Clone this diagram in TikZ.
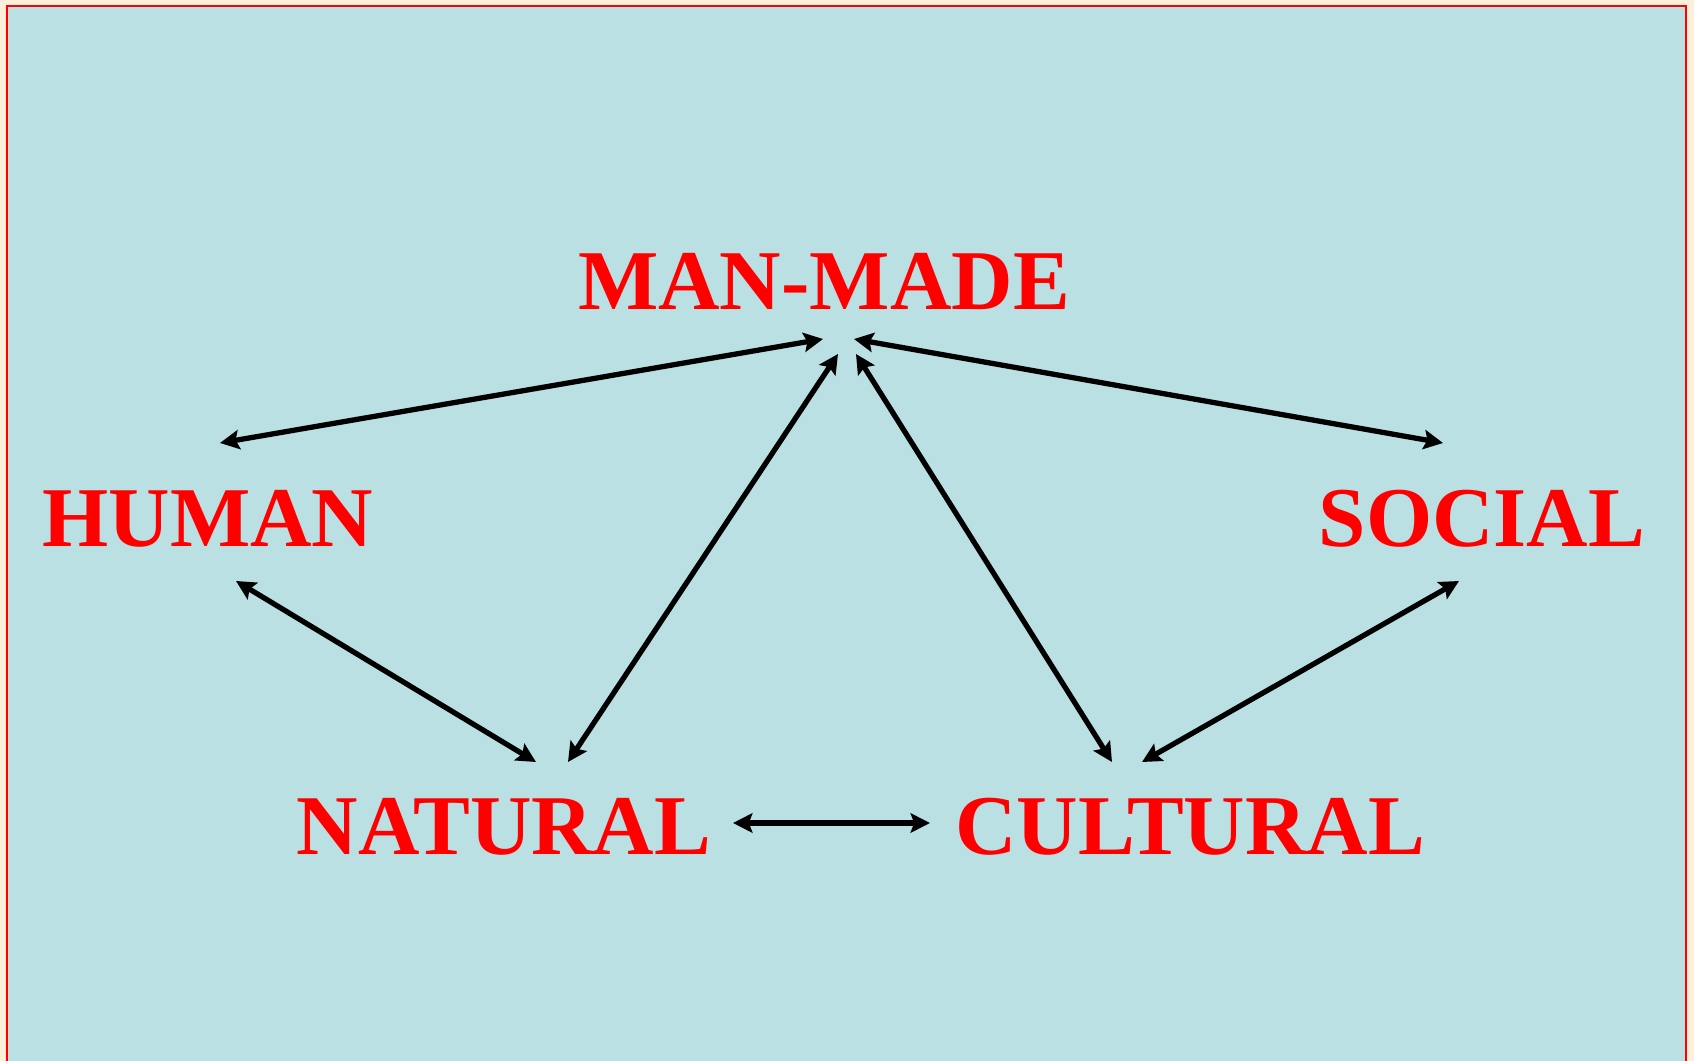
\documentclass[tikz,border=0pt]{standalone}
\usepackage{fontspec}
\setmainfont{Liberation Serif}
\usetikzlibrary{arrows.meta}
\definecolor{paper}{HTML}{FDF0DA}
\definecolor{panel}{HTML}{BAE0E3}
\tikzset{
  word/.style={anchor=base, text=red, inner sep=0pt,
    font=\fontsize{24.2}{29}\selectfont\bfseries},
  link/.style={line width=1.5pt, {Stealth[length=5.5pt,width=5.5pt,inset=1pt]}-{Stealth[length=5.5pt,width=5.5pt,inset=1pt]}}
}
\begin{document}
\begin{tikzpicture}[x=0.01cm, y=-0.01cm]
    % Hintergrund und Rahmen
    \useasboundingbox (0,0) rectangle (1694,1061);
    \fill[paper] (0,0) rectangle (1694,1061);
    \fill[panel] (7,6) rectangle (1686,1061);
    \draw[red, line width=0.8pt] (7,1061) -- (7,6) -- (1686,6) -- (1686,1061);

    % Begriffe
    \node[word] (manmade) at (824,310) {MAN-MADE};
    \node[word] (human) at (208,546) {HUMAN};
    \node[word] (social) at (1482,546) {SOCIAL};
    \node[word] (natural) at (504,854) {NATURAL};
    \node[word] (cultural) at (1190,854) {CULTURAL};

    % Pfeilenden
    \coordinate (mm-l) at (823,339);
    \coordinate (mm-r) at (854,339);
    \coordinate (mm-bl) at (838,354);
    \coordinate (mm-br) at (856,354);
    \coordinate (hu-t) at (220,443);
    \coordinate (hu-b) at (236,581);
    \coordinate (so-t) at (1443,443);
    \coordinate (so-b) at (1459,581);
    \coordinate (na-l) at (536,762);
    \coordinate (na-r) at (568,762);
    \coordinate (na-e) at (733,823);
    \coordinate (cu-w) at (930,823);
    \coordinate (cu-l) at (1112,762);
    \coordinate (cu-r) at (1142,762);

    % Beziehungen
    \draw[link] (hu-t) -- (mm-l);
    \draw[link] (mm-r) -- (so-t);
    \draw[link] (hu-b) -- (na-l);
    \draw[link] (na-r) -- (mm-bl);
    \draw[link] (cu-l) -- (mm-br);
    \draw[link] (cu-r) -- (so-b);
    \draw[link] (na-e) -- (cu-w);
\end{tikzpicture}
\end{document}
